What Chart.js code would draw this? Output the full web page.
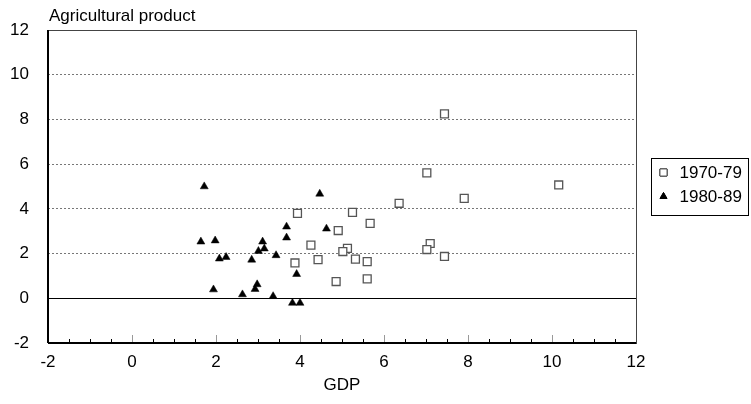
<!DOCTYPE html>
<html>
<head>
<meta charset="utf-8">
<title>Agricultural product vs GDP</title>
<script src="https://cdn.jsdelivr.net/npm/chart.js@4.4.1/dist/chart.umd.min.js"></script>
<style>
    html, body { margin: 0; padding: 0; background: #fff; }
    #wrap { width: 751px; height: 404px; }
</style>
</head>
<body>
<div id="wrap"><canvas id="scatterChart" width="751" height="404"></canvas></div>
<script>
// data
const seriesLabels = ['1970-79', '1980-89'];

const gdp7079 = [3.94, 4.26, 3.88, 4.43, 7.44, 7.02, 7.91, 6.36, 5.25, 5.67, 4.91,
                 5.13, 5.02, 7.10, 7.02, 7.44, 5.32, 5.60, 4.86, 5.60, 10.16];
const agr7079 = [3.80, 2.38, 1.58, 1.73, 8.25, 5.61, 4.47, 4.25, 3.84, 3.35, 3.03,
                 2.23, 2.09, 2.45, 2.18, 1.87, 1.75, 1.64, 0.75, 0.87, 5.07];

const gdp8089 = [1.72, 4.47, 3.68, 4.63, 3.68, 1.64, 1.98, 3.11, 3.15, 3.01, 3.43,
                 2.08, 2.24, 2.85, 3.92, 1.94, 2.98, 2.93, 2.63, 3.36, 3.82, 4.00];
const agr8089 = [5.00, 4.67, 3.20, 3.11, 2.71, 2.53, 2.58, 2.53, 2.22, 2.11, 1.92,
                 1.77, 1.84, 1.72, 1.08, 0.39, 0.62, 0.41, 0.17, 0.09, -0.21, -0.21];

const xTicks = [-2, 0, 2, 4, 6, 8, 10, 12];
const yTicks = [-2, 0, 2, 4, 6, 8, 10, 12];

const yTitle = 'Agricultural product';
const xTitle = 'GDP';

const FONT = 'Liberation Sans, Arial, sans-serif';

function toPoints(xs, ys) {
    return xs.map((x, i) => ({ x: x, y: ys[i] }));
}

// frame, zero line, inner x ticks, y title and boxed legend
const decorPlugin = {
    id: 'decor',
    beforeDatasetsDraw(chart) {
        const ctx = chart.ctx;
        const area = chart.chartArea;
        const xs = chart.scales.x;
        const ys = chart.scales.y;

        ctx.save();
        // solid line at zero
        const y0 = Math.round(ys.getPixelForValue(0)) + 0.5;
        ctx.strokeStyle = '#000';
        ctx.lineWidth = 1;
        ctx.beginPath();
        ctx.moveTo(area.left, y0);
        ctx.lineTo(area.right, y0);
        ctx.stroke();

        // small ticks on the bottom axis, pointing up
        for (let v = -1.5; v < 12; v += 0.5) {
            const px = Math.round(xs.getPixelForValue(v)) + 0.5;
            const major = v % 2 === 0;
            ctx.strokeStyle = major ? '#999' : '#000';
            ctx.beginPath();
            ctx.moveTo(px, area.bottom);
            ctx.lineTo(px, area.bottom - (major ? 8 : 4));
            ctx.stroke();
        }

        // plot frame
        ctx.strokeStyle = '#444';
        ctx.lineWidth = 1;
        ctx.strokeRect(Math.round(area.left) + 0.5, Math.round(area.top) + 0.5,
                       Math.round(area.right - area.left), Math.round(area.bottom - area.top));
        ctx.strokeStyle = '#000';
        ctx.lineWidth = 2;
        ctx.beginPath();
        ctx.moveTo(area.left, Math.round(area.bottom));
        ctx.lineTo(area.right, Math.round(area.bottom));
        ctx.moveTo(Math.round(area.left), area.top);
        ctx.lineTo(Math.round(area.left), area.bottom);
        ctx.stroke();
        ctx.restore();
    },
    afterDraw(chart) {
        const ctx = chart.ctx;
        const area = chart.chartArea;
        ctx.save();
        ctx.fillStyle = '#000';
        ctx.font = '17px ' + FONT;
        ctx.textAlign = 'left';
        ctx.textBaseline = 'alphabetic';
        ctx.fillText(yTitle, area.left + 1, 21);

        // legend box
        const bx = 651.5, by = 158.5, bw = 97, bh = 57;
        ctx.strokeStyle = '#000';
        ctx.lineWidth = 1;
        ctx.strokeRect(bx, by, bw, bh);

        ctx.textBaseline = 'middle';
        chart.data.datasets.forEach((ds, i) => {
            const cy = by + 14 + i * 24;
            Chart.helpers.drawPoint(ctx, {
                pointStyle: ds.pointStyle,
                radius: ds.pointStyle === 'rect' ? 5 : 4,
                borderWidth: 1
            }, bx + 12, cy);
            ctx.fillStyle = ds.pointBackgroundColor;
            ctx.strokeStyle = ds.pointBorderColor;
            ctx.lineWidth = 1;
            ctx.fill();
            ctx.stroke();
            ctx.fillStyle = '#000';
            ctx.fillText(ds.label, bx + 28, cy + 1);
        });
        ctx.restore();
    }
};

document.addEventListener('DOMContentLoaded', function() {
    const ctx = document.getElementById('scatterChart').getContext('2d');

    new Chart(ctx, {
        type: 'scatter',
        data: {
            datasets: [
                {
                    label: seriesLabels[0],
                    data: toPoints(gdp7079, agr7079),
                    pointStyle: 'rect',
                    pointRadius: 5.6,
                    pointBorderWidth: 1.3,
                    pointBorderColor: '#555',
                    pointBackgroundColor: '#fff'
                },
                {
                    label: seriesLabels[1],
                    data: toPoints(gdp8089, agr8089),
                    pointStyle: 'triangle',
                    pointRadius: 4.6,
                    pointBorderWidth: 0.5,
                    pointBorderColor: '#000',
                    pointBackgroundColor: '#000'
                }
            ]
        },
        options: {
            responsive: false,
            animation: false,
            layout: { padding: { left: 0, top: 30, right: 115, bottom: 0 } },
            scales: {
                x: {
                    type: 'linear',
                    min: -2,
                    max: 12,
                    afterBuildTicks: s => { s.ticks = xTicks.map(v => ({ value: v })); },
                    afterFit: s => { s.height = 61; },
                    grid: { display: false, drawTicks: false },
                    border: { display: false },
                    ticks: {
                        color: '#000',
                        padding: 9,
                        maxRotation: 0,
                        font: { family: FONT, size: 17 }
                    },
                    title: {
                        display: true,
                        text: xTitle,
                        color: '#000',
                        font: { family: FONT, size: 17 },
                        padding: { top: 0, bottom: 8 }
                    }
                },
                y: {
                    type: 'linear',
                    min: -2,
                    max: 12,
                    afterBuildTicks: s => { s.ticks = yTicks.map(v => ({ value: v })); },
                    afterFit: s => { s.width = 48; },
                    grid: {
                        drawTicks: false,
                        lineWidth: 1,
                        color: c => (c.tick && c.tick.value > 0 && c.tick.value < 12) ? '#777' : 'rgba(0,0,0,0)'
                    },
                    border: { display: false, dash: [2, 2] },
                    ticks: {
                        color: '#000',
                        padding: 19,
                        font: { family: FONT, size: 17 }
                    }
                }
            },
            plugins: {
                legend: { display: false },
                tooltip: { enabled: false }
            }
        },
        plugins: [decorPlugin]
    });
});
</script>
</body>
</html>
